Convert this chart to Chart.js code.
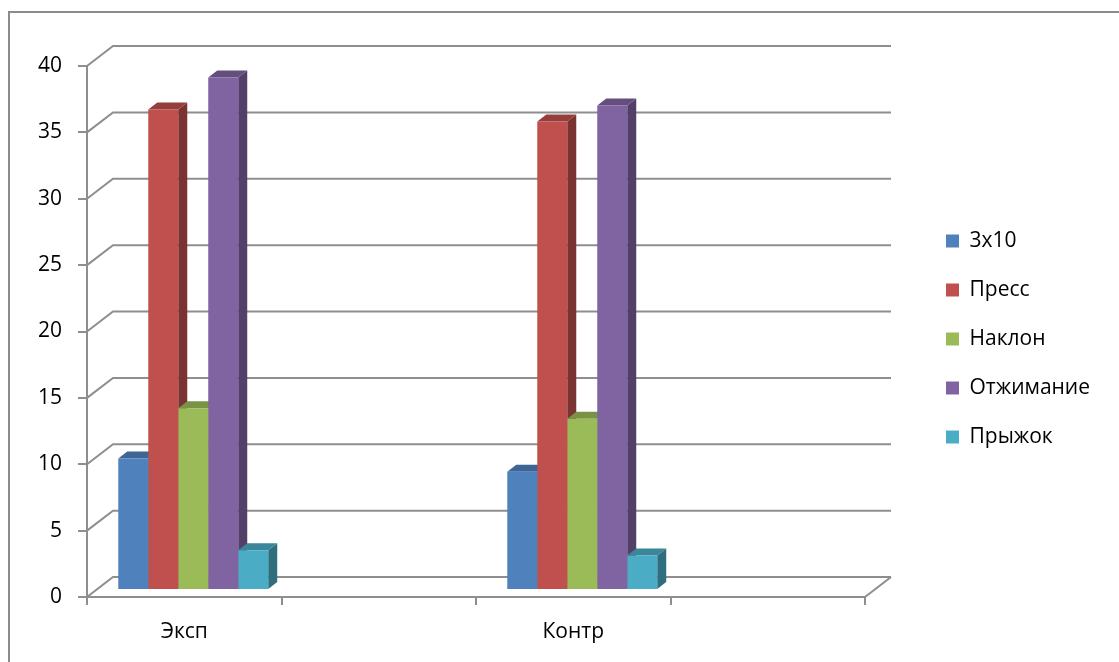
<!DOCTYPE html>
<html>
<head>
<meta charset="utf-8">
<script src="https://cdn.jsdelivr.net/npm/chart.js@4.4.0/dist/chart.umd.min.js"></script>
<style>
  html, body { margin: 0; padding: 0; background: #fff; }
  #wrap { position: relative; width: 1119px; height: 662px; overflow: hidden; }
  #frame { position: absolute; left: 8px; top: 11px; width: 1300px; height: 900px;
           border-left: 2px solid #8c8c8c; border-top: 2px solid #8c8c8c; }
  canvas { position: absolute; left: 0; top: 0; }
</style>
</head>
<body>
<div id="wrap">
  <div id="frame"></div>
  <canvas id="chart" width="1119" height="662"></canvas>
</div>
<script>
// DATA
let categories = ["Эксп", "", "Контр", ""];
let seriesNames = ["3х10", "Пресс", "Наклон", "Отжимание", "Прыжок"];
let s3x10   = [9.9, null, 8.9, null];
let press   = [36.2, null, 35.3, null];
let naklon  = [13.7, null, 12.9, null];
let otzhim  = [38.6, null, 36.5, null];
let pryzhok = [3.0, null, 2.6, null];
let yMin = 0, yMax = 40, yStep = 5;

// STYLE
let colors = ["#4F81BD", "#C0504D", "#9BBB59", "#8064A2", "#4BACC6"];
let gridColor = "#8e8e8e";
let font = "'Open Sans', 'Noto Sans', sans-serif";
let fontSize = 21;

// 3D offsets: bars sit a bit behind the front plane, back wall further
const barShiftX = 9, barShiftY = -7;
const depthX = 9, depthY = -7;
const wallX = 26, wallY = -20;
const legendShiftX = 53, legendShiftY = -25;

function shade(hex, f) {
  let n = parseInt(hex.slice(1), 16);
  let r = Math.round(((n >> 16) & 255) * f);
  let g = Math.round(((n >> 8) & 255) * f);
  let b = Math.round((n & 255) * f);
  return "rgb(" + r + "," + g + "," + b + ")";
}

// plugin: back wall, bar sides / tops, legend placement
const threeD = {
  id: "threeD",
  afterInit(chart) {
    let lg = chart.legend;
    let fit = lg.fit;
    lg.fit = function () {
      fit.call(this);
      this.width = 254;
    };
  },
  afterLayout(chart) {
    let lg = chart.legend;
    lg.left += legendShiftX;
    lg.right += legendShiftX;
    lg.top += legendShiftY;
    lg.bottom += legendShiftY;
  },
  beforeDatasetsDraw(chart) {
    let ctx = chart.ctx, x = chart.scales.x, y = chart.scales.y;

    // back wall grid + left wall diagonals
    ctx.save();
    ctx.strokeStyle = gridColor;
    ctx.lineWidth = 2;
    y.ticks.forEach(t => {
      let py = y.getPixelForValue(t.value);
      ctx.beginPath();
      ctx.moveTo(x.left, py);
      ctx.lineTo(x.left + wallX, py + wallY);
      ctx.lineTo(x.right + wallX, py + wallY);
      ctx.stroke();
    });
    let p0 = y.getPixelForValue(0);
    ctx.beginPath();
    ctx.moveTo(x.right, p0);
    ctx.lineTo(x.right + wallX, p0 + wallY);
    ctx.stroke();
    ctx.restore();

    // bars: shift, then draw side + top faces, fronts come from Chart.js
    ctx.save();
    ctx.translate(barShiftX, barShiftY);
    let bars = [];
    chart.data.datasets.forEach((ds, i) => {
      let meta = chart.getDatasetMeta(i);
      meta.data.forEach((el, j) => {
        if (ds.data[j] == null) return;
        bars.push({ x: el.x, y: el.y, base: el.base, w: el.width, c: colors[i] });
      });
    });
    bars.sort((a, b) => a.x - b.x);
    bars.forEach(b => {
      let l = b.x - b.w / 2, r = b.x + b.w / 2;
      ctx.fillStyle = shade(b.c, 0.64);
      ctx.beginPath();
      ctx.moveTo(r, b.y);
      ctx.lineTo(r + depthX, b.y + depthY);
      ctx.lineTo(r + depthX, b.base + depthY);
      ctx.lineTo(r, b.base);
      ctx.closePath();
      ctx.fill();
      ctx.fillStyle = shade(b.c, 0.78);
      ctx.beginPath();
      ctx.moveTo(l, b.y);
      ctx.lineTo(l + depthX, b.y + depthY);
      ctx.lineTo(r + depthX, b.y + depthY);
      ctx.lineTo(r, b.y);
      ctx.closePath();
      ctx.fill();
    });
  },
  afterDatasetsDraw(chart) {
    chart.ctx.restore();
  }
};

let seriesData = [s3x10, press, naklon, otzhim, pryzhok];

let chart = new Chart(document.getElementById("chart").getContext("2d"), {
  type: "bar",
  data: {
    labels: categories,
    datasets: seriesNames.map((name, i) => ({
      label: name,
      data: seriesData[i],
      backgroundColor: colors[i],
      borderWidth: 0,
      categoryPercentage: 0.771,
      barPercentage: 1.0,
      clip: false
    }))
  },
  options: {
    responsive: false,
    animation: false,
    layout: { padding: { top: 66, left: 0, right: 0, bottom: 0 } },
    plugins: {
      tooltip: { enabled: false },
      legend: {
        position: "right",
        labels: {
          boxWidth: 13,
          boxHeight: 13,
          padding: 28,
          color: "#000",
          font: { family: font, size: fontSize }
        }
      }
    },
    scales: {
      x: {
        afterFit: s => { s.height = 65; },
        grid: { drawOnChartArea: false, drawTicks: true, tickLength: 8, color: gridColor, lineWidth: 2, offset: true },
        border: { display: true, color: gridColor, width: 2 },
        ticks: { color: "#000", padding: 14, font: { family: font, size: fontSize } }
      },
      y: {
        min: yMin,
        max: yMax,
        afterFit: s => { s.width = 87; },
        grid: { drawOnChartArea: false, drawTicks: true, tickLength: 9, color: gridColor, lineWidth: 2 },
        border: { display: true, color: gridColor, width: 2 },
        ticks: { stepSize: yStep, color: "#000", padding: 16, font: { family: font, size: fontSize } }
      }
    }
  },
  plugins: [threeD]
});
</script>
</body>
</html>
